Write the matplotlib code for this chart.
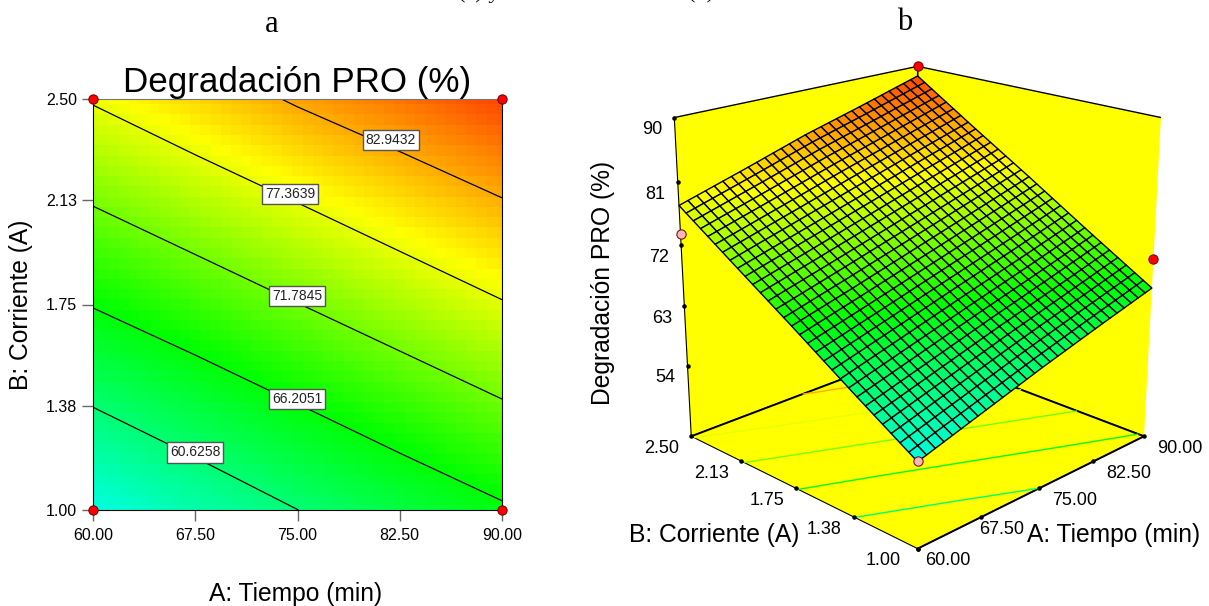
import numpy as np
import matplotlib
matplotlib.use("Agg")
import matplotlib.pyplot as plt
from matplotlib.colors import LinearSegmentedColormap, Normalize
from mpl_toolkits.mplot3d import proj3d

plt.rcParams["font.family"] = ["Liberation Sans", "DejaVu Sans"]

# valeurs
tiempo = [60.0, 67.5, 75.0, 82.5, 90.0]
corriente = [1.00, 1.38, 1.75, 2.13, 2.50]
degradacion = [
    [55.0, 57.8, 60.6, 63.2, 65.7],
    [60.7, 63.4, 66.1, 68.7, 71.4],
    [66.4, 69.0, 71.7, 74.4, 77.1],
    [72.1, 74.8, 77.5, 80.2, 82.8],
    [77.7, 80.5, 83.4, 85.9, 88.5],
]
niveaux = [60.6258, 66.2051, 71.7845, 77.3639, 82.9432]
niveaux_x = [67.48, 74.97, 74.97, 74.46, 81.86]
niveaux_y = [1.21, 1.405, 1.78, 2.153, 2.35]
z_ticks = [54, 63, 72, 81, 90]
x_labels = ["60.00", "67.50", "75.00", "82.50", "90.00"]
y_labels = ["1.00", "1.38", "1.75", "2.13", "2.50"]

# points d'expérience (vue 3D)
pts_x = [90, 90, 60, 60]
pts_y = [2.5, 1.0, 2.5, 1.0]
pts_z = [90.0, 70.0, 73.6, 55.1]
pts_c = ["red", "red", "#f8b8b8", "#f8b8b8"]

cmap = LinearSegmentedColormap.from_list(
    "design", [(0.0, "#00ffe0"), (0.343, "#00ff00"), (0.70, "#ffff00"), (1.0, "#ff4600")])
norm = Normalize(55.0, 88.5)


def affiner(n=31):
    # grille fine pour dessiner la surface
    xf = np.linspace(tiempo[0], tiempo[-1], n)
    yf = np.linspace(corriente[0], corriente[-1], n)
    z = np.array(degradacion)
    lignes = np.array([np.interp(xf, tiempo, ligne) for ligne in z])
    zf = np.array([np.interp(yf, corriente, lignes[:, i]) for i in range(n)]).T
    return xf, yf, zf


fig = plt.figure(figsize=(12.09, 6.06), dpi=100)

# partie a : carte de contours
ax = fig.add_axes([93 / 1209, 1 - 510 / 606, 409 / 1209, 411 / 606])
xf, yf, zf = affiner(41)
ax.pcolormesh(xf, yf, zf, cmap=cmap, norm=norm, shading="nearest")
ax.contour(tiempo, corriente, degradacion, levels=niveaux, colors="black", linewidths=0.9)
for v, x, y in zip(niveaux, niveaux_x, niveaux_y):
    ax.text(x, y, f"{v:.4f}", fontsize=10, ha="center", va="center", color="#222222",
            bbox=dict(boxstyle="square,pad=0.22", fc="white", ec="#555555", lw=1))
ax.set_xlim(60, 90)
ax.set_ylim(1, 2.5)
ax.set_xticks(tiempo)
ax.set_xticklabels(x_labels, fontsize=11.5)
ax.set_yticks(corriente)
ax.set_yticklabels(y_labels, fontsize=11.5)
ax.tick_params(length=8, width=1, color="#666666")
ax.tick_params(axis="x", pad=5)
ax.tick_params(axis="y", pad=3.5)
ax.spines["top"].set_color("#777777")
ax.set_xlabel("A: Tiempo (min)", fontsize=17.7, labelpad=28, x=0.495)
ax.set_ylabel("B: Corriente (A)", fontsize=17.7, labelpad=9)
ax.set_title("Degradación PRO (%)", fontsize=25.2, pad=5)
ax.scatter([60, 60, 90, 90], [1, 2.5, 1, 2.5], s=45, c="red", edgecolors="#660000",
           linewidths=0.7, clip_on=False, zorder=5)

# partie b : surface 3D
zmin, zmax = 43, 90
ax3 = fig.add_axes([0.4817, -0.041, 0.54, 1.12], projection="3d", computed_zorder=False)
ax3.patch.set_alpha(0)
ax3.view_init(elev=19.8, azim=-135)
ax3.set_proj_type("persp", focal_length=0.45)
ax3.set_box_aspect((1, 1, 1.02), zoom=0.86)
ax3.set_xlim(60, 90)
ax3.set_ylim(1, 2.5)
ax3.set_zlim(zmin, zmax)
ax3.grid(False)
ax3.set_xticks([])
ax3.set_yticks([])
ax3.set_zticks([])
for a in (ax3.xaxis, ax3.yaxis, ax3.zaxis):
    a.set_pane_color("#ffff00")
    a.pane.set_edgecolor("black")
    a.pane.set_linewidth(1)
    a.line.set_color("black")
ax3.zaxis.pane.set_linewidth(1.4)

xs, ys, zs = affiner(31)
X, Y = np.meshgrid(xs, ys)
ax3.contour(tiempo, corriente, degradacion, levels=niveaux, zdir="z", offset=zmin,
            cmap=cmap, norm=norm, linewidths=1, zorder=1)
centre = (zs[:-1, :-1] + zs[1:, 1:]) / 2
ax3.plot_surface(X, Y, zs, facecolors=cmap(norm(centre)), edgecolor="black", linewidth=1.0,
                 shade=False, zorder=2)
for x, y, z, c in zip(pts_x, pts_y, pts_z, pts_c):
    ax3.scatter([x], [y], [z], s=45, c=c, edgecolors="#660000", linewidths=0.7,
                depthshade=False, zorder=3)

ax3.scatter(tiempo, [1.0] * 5, [zmin] * 5, s=5, c="black", depthshade=False, zorder=3)
ax3.scatter([60] * 5, corriente, [zmin] * 5, s=5, c="black", depthshade=False, zorder=3)
ax3.scatter([60] * 5, [2.5] * 5, z_ticks, s=5, c="black", depthshade=False, zorder=3)


def etiquette(x, y, z, txt, dx, dy, ha):
    # texte décalé en pixels autour d'un point 3D
    px, py, _ = proj3d.proj_transform(x, y, z, ax3.get_proj())
    ax3.annotate(txt, (px, py), xytext=(dx, dy), textcoords="offset pixels", fontsize=13,
                 ha=ha, va="center", annotation_clip=False)


x_decalage = [7, -1, 13, 13, 13]
for x, lab, dx in zip(tiempo, x_labels, x_decalage):
    etiquette(x, 1.0, zmin, lab, dx, -12, "left")
for y, lab in zip(corriente, y_labels):
    etiquette(60, y, zmin, lab, -17 if y == 1 else -12, -12, "right")
for z in z_ticks:
    etiquette(60, 2.5, z, str(z), -12, -12, "right")

fig.text(629 / 1209, 1 - 535 / 606, "B: Corriente (A)", fontsize=17.7, va="center")
fig.text(1027 / 1209, 1 - 535 / 606, "A: Tiempo (min)", fontsize=17.7, va="center")
fig.text(603 / 1209, 1 - 283 / 606, "Degradación PRO (%)", fontsize=17.7, rotation=90,
         ha="center", va="center")

fig.text(272 / 1209, 1 - 25 / 606, "a", family="Liberation Serif", fontsize=22, ha="center", va="center")
fig.text(905 / 1209, 1 - 23 / 606, "b", family="Liberation Serif", fontsize=22, ha="center", va="center")
# légende coupée en haut de l'image d'origine
fig.text(458 / 1209, 1 + 2 / 606, "(a) y", family="Liberation Serif", fontsize=16, va="baseline")
fig.text(688 / 1209, 1 + 2 / 606, "(b)", family="Liberation Serif", fontsize=16, va="baseline")

plt.savefig("out.png", dpi=100)
